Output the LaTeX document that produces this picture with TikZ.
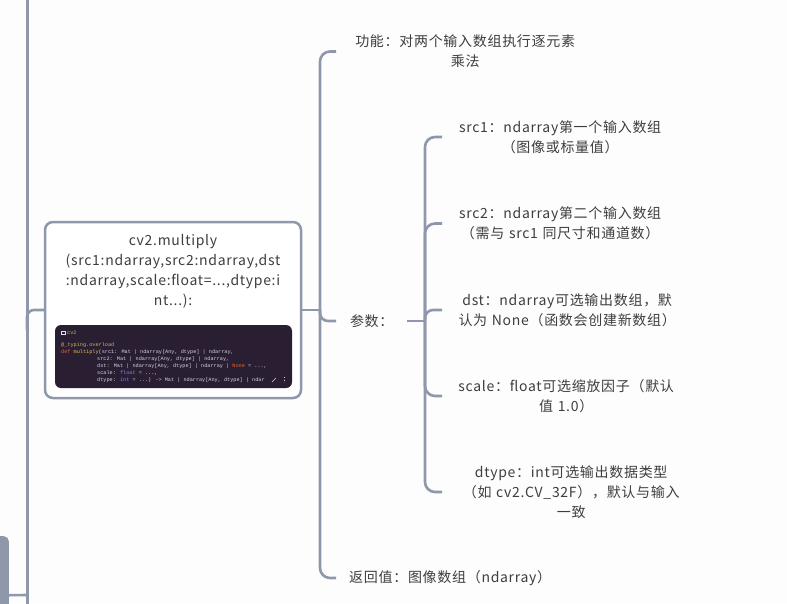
\documentclass[tikz,border=0pt]{standalone}
\usepackage{fontspec}
\setmainfont{Noto Sans CJK SC}[LetterSpace=5]
\newfontfamily\codefont{Liberation Mono}
\definecolor{linec}{HTML}{8E98AA}
\definecolor{txt}{HTML}{3E3E3E}
\definecolor{codebg}{HTML}{2A1E33}
\definecolor{codefg}{HTML}{D6D4DE}
\definecolor{codekw}{HTML}{E8643C}
\definecolor{codefn}{HTML}{E2C24A}
\definecolor{codedec}{HTML}{CDB84A}
\definecolor{codety}{HTML}{8F80E6}
\definecolor{codemod}{HTML}{B8C44A}
\definecolor{bgc}{HTML}{FDFDFE}
\begin{document}
\begin{tikzpicture}[x=1pt,y=-1pt,
  conn/.style={draw=linec,line width=2.6pt,rounded corners=10pt},
  trunkline/.style={draw=linec,line width=3pt},
  lbl/.style={text=txt,font=\fontsize{14}{20}\selectfont,align=center,inner sep=0pt},
  codeln/.style={font=\codefont\fontsize{5.2}{6}\selectfont,text=codefg,inner sep=0pt,anchor=west}]
\useasboundingbox (0,0) rectangle (787,603);
\fill[bgc] (0,0) rectangle (787,603);

% left trunk and cut-off node
\coordinate (ttop) at (27,-5);
\coordinate (tbot) at (27,610);
\draw[trunkline] (ttop) -- (tbot);
\node[fill=linec,rounded corners=5pt,minimum width=40,minimum height=118,anchor=north east,inner sep=0pt] (leftnode) at (9,536) {};
\coordinate (lnj) at (27,595);
\draw[conn] (leftnode.east) -- (lnj);

% main node
\node[draw=linec,line width=2.5pt,fill=white,rounded corners=8pt,minimum width=256,minimum height=176,inner sep=0pt] (main) at (173,310) {};
\node[lbl] (title) at (173,271) {cv2.multiply\\(src1:ndarray,src2:ndarray,dst\\:ndarray,scale:float=...,dtype:i\\nt...):};

% code block
\node[fill=codebg,rounded corners=6pt,minimum width=237,minimum height=63,inner sep=0pt] (code) at (173.5,356.5) {};
\node[draw=codefg!70,line width=0.4pt,minimum width=4,minimum height=3,inner sep=0pt] (fold) at (63.5,333) {};
\node[codeln,text=codemod] (c0) at (67,333) {cv2};
\node[codeln,text=codedec] (c1) at (61,345) {@\_typing.overload};
\node[codeln] (c2) at (61,352) {\textcolor{codekw}{def} \textcolor{codefn}{multiply}(src1: Mat | ndarray[Any, dtype] | ndarray,};
\node[codeln] (c3) at (97,359) {src2: Mat | ndarray[Any, dtype] | ndarray,};
\node[codeln] (c4) at (97,366) {dst: Mat | ndarray[Any, dtype] | ndarray | \textcolor{codekw}{None} = ...,};
\node[codeln] (c5) at (97,373) {scale: \textcolor{codety}{float} = ...,};
\node[codeln] (c6) at (97,380) {dtype: \textcolor{codety}{int} = ...) -> Mat | ndarray[Any, dtype] | ndar};
\coordinate (pen1) at (272,382);
\coordinate (pen2) at (276,378);
\draw[codefg,line width=0.6pt] (pen1) -- (pen2);
\coordinate (dots1) at (284,377);
\coordinate (dots2) at (284,382);
\draw[codefg,line width=0.5pt,dotted] (dots1) -- (dots2);

% left connector into main
\coordinate (tb) at (27,330);
\draw[conn,rounded corners=7pt] (tb) |- (main.west);

% first level
\coordinate (hub) at (320,310);
\draw[conn] (main.east) -- (hub);
\node[lbl,anchor=west,text width=258] (func) at (336,51.5) {功能：对两个输入数组执行逐元素\\乘法};
\node[lbl,anchor=west,minimum width=71] (params) at (336,321) {参数：};
\node[lbl,anchor=west,text width=228] (ret) at (336,578) {返回值：图像数组（ndarray）};
\draw[conn] (hub) |- (func.west);
\draw[conn,rounded corners=8pt] (hub) |- (params.west);
\draw[conn] (hub) |- (ret.west);

% second level
\coordinate (hub2) at (425,321);
\draw[conn] (params.east) -- (hub2);
\node[lbl,anchor=west,text width=236] (src1) at (442,137) {src1：ndarray第一个输入数组\\（图像或标量值）};
\node[lbl,anchor=west,text width=236] (src2) at (442,223.5) {src2：ndarray第二个输入数组\\（需与 src1 同尺寸和通道数）};
\node[lbl,anchor=west,text width=250] (dst) at (442,310) {dst：ndarray可选输出数组，默\\认为 None（函数会创建新数组）};
\node[lbl,anchor=west,text width=248] (scale) at (442,396) {scale：float可选缩放因子（默认\\值 1.0）};
\node[lbl,anchor=west,text width=258] (dtype) at (442,492) {dtype：int可选输出数据类型\\（如 cv2.CV\_32F），默认与输入\\一致};
\draw[conn] (hub2) |- (src1.west);
\draw[conn] (hub2) |- (src2.west);
\draw[conn,rounded corners=8pt] (hub2) |- (dst.west);
\draw[conn] (hub2) |- (scale.west);
\draw[conn] (hub2) |- (dtype.west);
\end{tikzpicture}
\end{document}
